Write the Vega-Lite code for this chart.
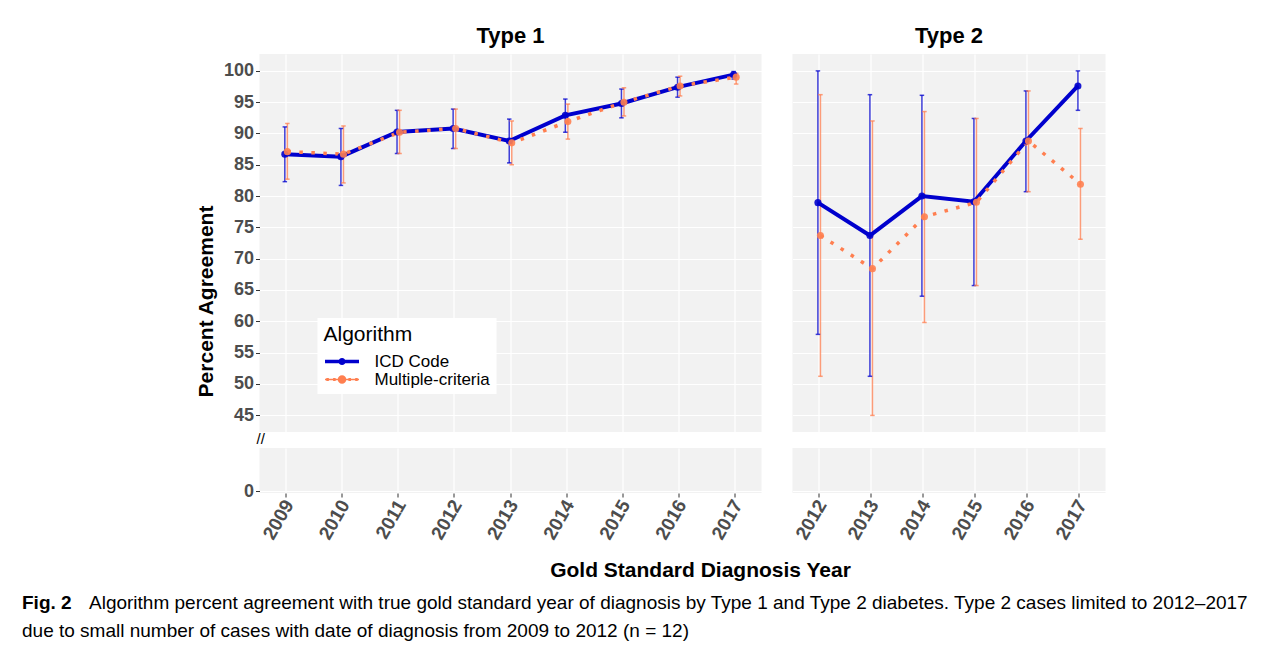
{
  "$schema": "https://vega.github.io/schema/vega-lite/v6.json",
  "padding": {"left": 22, "top": 25, "right": -62, "bottom": 0},
  "background": "#FFFFFF",
  "datasets": {
    "points": [
      {"type": "Type 1", "year": 2009, "algorithm": "ICD Code", "pct": 86.7, "lo": 82.3, "hi": 91.05},
      {"type": "Type 1", "year": 2010, "algorithm": "ICD Code", "pct": 86.3, "lo": 81.7, "hi": 90.8},
      {"type": "Type 1", "year": 2011, "algorithm": "ICD Code", "pct": 90.25, "lo": 86.8, "hi": 93.7},
      {"type": "Type 1", "year": 2012, "algorithm": "ICD Code", "pct": 90.8, "lo": 87.6, "hi": 93.9},
      {"type": "Type 1", "year": 2013, "algorithm": "ICD Code", "pct": 88.8, "lo": 85.3, "hi": 92.3},
      {"type": "Type 1", "year": 2014, "algorithm": "ICD Code", "pct": 92.9, "lo": 90.2, "hi": 95.5},
      {"type": "Type 1", "year": 2015, "algorithm": "ICD Code", "pct": 94.8, "lo": 92.5, "hi": 97.1},
      {"type": "Type 1", "year": 2016, "algorithm": "ICD Code", "pct": 97.4, "lo": 95.8, "hi": 99.0},
      {"type": "Type 1", "year": 2017, "algorithm": "ICD Code", "pct": 99.4, "lo": 98.7, "hi": 99.9},
      {"type": "Type 1", "year": 2009, "algorithm": "Multiple-criteria", "pct": 87.1, "lo": 82.7, "hi": 91.6},
      {"type": "Type 1", "year": 2010, "algorithm": "Multiple-criteria", "pct": 86.7, "lo": 82.1, "hi": 91.2},
      {"type": "Type 1", "year": 2011, "algorithm": "Multiple-criteria", "pct": 90.2, "lo": 86.8, "hi": 93.7},
      {"type": "Type 1", "year": 2012, "algorithm": "Multiple-criteria", "pct": 90.8, "lo": 87.6, "hi": 93.9},
      {"type": "Type 1", "year": 2013, "algorithm": "Multiple-criteria", "pct": 88.5, "lo": 85.0, "hi": 92.0},
      {"type": "Type 1", "year": 2014, "algorithm": "Multiple-criteria", "pct": 91.9, "lo": 89.1, "hi": 94.7},
      {"type": "Type 1", "year": 2015, "algorithm": "Multiple-criteria", "pct": 95.0, "lo": 92.8, "hi": 97.3},
      {"type": "Type 1", "year": 2016, "algorithm": "Multiple-criteria", "pct": 97.6, "lo": 96.0, "hi": 99.15},
      {"type": "Type 1", "year": 2017, "algorithm": "Multiple-criteria", "pct": 99.0, "lo": 97.9, "hi": 99.6},
      {"type": "Type 2", "year": 2012, "algorithm": "ICD Code", "pct": 78.95, "lo": 57.9, "hi": 100},
      {"type": "Type 2", "year": 2013, "algorithm": "ICD Code", "pct": 73.7, "lo": 51.2, "hi": 96.2},
      {"type": "Type 2", "year": 2014, "algorithm": "ICD Code", "pct": 80.0, "lo": 64.0, "hi": 96.1},
      {"type": "Type 2", "year": 2015, "algorithm": "ICD Code", "pct": 79.1, "lo": 65.7, "hi": 92.4},
      {"type": "Type 2", "year": 2016, "algorithm": "ICD Code", "pct": 88.8, "lo": 80.7, "hi": 96.8},
      {"type": "Type 2", "year": 2017, "algorithm": "ICD Code", "pct": 97.6, "lo": 93.7, "hi": 100},
      {"type": "Type 2", "year": 2012, "algorithm": "Multiple-criteria", "pct": 73.7, "lo": 51.2, "hi": 96.2},
      {"type": "Type 2", "year": 2013, "algorithm": "Multiple-criteria", "pct": 68.4, "lo": 44.95, "hi": 92.0},
      {"type": "Type 2", "year": 2014, "algorithm": "Multiple-criteria", "pct": 76.7, "lo": 59.8, "hi": 93.5},
      {"type": "Type 2", "year": 2015, "algorithm": "Multiple-criteria", "pct": 79.0, "lo": 65.7, "hi": 92.4},
      {"type": "Type 2", "year": 2016, "algorithm": "Multiple-criteria", "pct": 88.8, "lo": 80.7, "hi": 96.8},
      {"type": "Type 2", "year": 2017, "algorithm": "Multiple-criteria", "pct": 81.9, "lo": 73.1, "hi": 90.8}
    ],
    "caption": [
      {"line": 1, "col": "a", "w": "bold", "text": "Fig. 2"},
      {"line": 1, "col": "b", "w": "normal", "text": "Algorithm percent agreement with true gold standard year of diagnosis by Type 1 and Type 2 diabetes. Type 2 cases limited to 2012–2017"},
      {"line": 2, "col": "a", "w": "normal", "text": "due to small number of cases with date of diagnosis from 2009 to 2012 (n = 12)"}
    ]
  },
  "vconcat": [
    {
      "hconcat": [
        {
          "vconcat": [
            {
              "width": 502, "height": 378,
              "title": {"text": "Type 1", "fontSize": 22, "fontWeight": "bold", "color": "#000000", "frame": "group", "anchor": "middle", "offset": 6},
              "data": {"name": "points"},
              "transform": [{"filter": "datum.type === 'Type 1'"}],
              "encoding": {
                "x": {"field": "year", "type": "ordinal", "scale": {"type": "band", "domain": [2009, 2010, 2011, 2012, 2013, 2014, 2015, 2016, 2017], "paddingInner": 0.91, "paddingOuter": 0.429}, "axis": {"labels": false, "ticks": false, "domain": false, "grid": true, "gridColor": "#FFFFFF", "gridWidth": 1.2, "bandPosition": 0.5, "title": null}},
                "xOffset": {"field": "algorithm", "type": "nominal", "scale": {"type": "band", "domain": ["ICD Code", "Multiple-criteria"], "paddingInner": 0, "paddingOuter": 0}},
                "color": {"field": "algorithm", "type": "nominal", "scale": {"domain": ["ICD Code", "Multiple-criteria"], "range": ["#0000CD", "#FF7F50"]},
                  "legend": {
                    "orient": "none", "legendX": 58, "legendY": 264,
                    "title": "Algorithm", "titleFontSize": 21, "titleFontWeight": "normal", "titleColor": "#000000", "titlePadding": 8,
                    "labelFontSize": 17, "labelColor": "#000000", "labelOffset": 34,
                    "symbolSize": 289, "symbolType": "M-0.82,-0.22H3.18V0.22H-0.82Z", "symbolStrokeWidth": 0,
                    "fillColor": "#FFFFFF", "padding": 6, "rowPadding": 0,
                    "encode": {"symbols": {"update": {
                      "shape": {"signal": "datum.value === 'ICD Code' ? 'M-0.82,-0.22H3.18V0.22H-0.82Z M1.6,0A0.42,0.42 0 1,1 0.76,0A0.42,0.42 0 1,1 1.6,0Z' : 'M-0.82,-0.09H3.18V0.09H-0.82Z M-0.67,-0.18H-0.37V0.18H-0.67Z M2.73,-0.18H3.03V0.18H2.73Z M0.13,-0.18H0.43V0.18H0.13Z M1.93,-0.18H2.23V0.18H1.93Z M1.68,0A0.5,0.5 0 1,1 0.68,0A0.5,0.5 0 1,1 1.68,0Z'"},
                      "fill": {"signal": "datum.value === 'ICD Code' ? '#0000CD' : '#FF7F50'"},
                      "stroke": {"value": "transparent"},
                      "opacity": {"value": 1}
                    }}}
                  }
                }
              },
              "layer": [
                {"mark": {"type": "rule", "strokeWidth": 1.5, "opacity": 0.75},
                 "encoding": {"y": {"field": "lo", "type": "quantitative", "scale": {"domain": [42.3, 102.7], "nice": false, "zero": false},
                   "axis": {"values": [45, 50, 55, 60, 65, 70, 75, 80, 85, 90, 95, 100], "title": "Percent Agreement", "titleFontSize": 21, "titleFontWeight": "bold", "titleColor": "#000000", "titleY": 247, "titlePadding": 7, "minExtent": 36, "maxExtent": 36, "labelFontSize": 18, "labelFontWeight": "bold", "labelColor": "#4D4D4D", "labelPadding": 2, "tickSize": 4, "tickColor": "#333333", "domain": false, "grid": true, "gridColor": "#FFFFFF", "gridWidth": 1.2}},
                   "y2": {"field": "hi"}}},
                {"mark": {"type": "tick", "thickness": 1.5, "size": 4.5, "opacity": 0.75},
                 "encoding": {"y": {"field": "lo", "type": "quantitative", "scale": {"domain": [42.3, 102.7], "nice": false, "zero": false},
                   "axis": {"values": [45, 50, 55, 60, 65, 70, 75, 80, 85, 90, 95, 100], "title": "Percent Agreement", "titleFontSize": 21, "titleFontWeight": "bold", "titleColor": "#000000", "titleY": 247, "titlePadding": 7, "minExtent": 36, "maxExtent": 36, "labelFontSize": 18, "labelFontWeight": "bold", "labelColor": "#4D4D4D", "labelPadding": 2, "tickSize": 4, "tickColor": "#333333", "domain": false, "grid": true, "gridColor": "#FFFFFF", "gridWidth": 1.2}}}},
                {"mark": {"type": "tick", "thickness": 1.5, "size": 4.5, "opacity": 0.75},
                 "encoding": {"y": {"field": "hi", "type": "quantitative", "scale": {"domain": [42.3, 102.7], "nice": false, "zero": false},
                   "axis": {"values": [45, 50, 55, 60, 65, 70, 75, 80, 85, 90, 95, 100], "title": "Percent Agreement", "titleFontSize": 21, "titleFontWeight": "bold", "titleColor": "#000000", "titleY": 247, "titlePadding": 7, "minExtent": 36, "maxExtent": 36, "labelFontSize": 18, "labelFontWeight": "bold", "labelColor": "#4D4D4D", "labelPadding": 2, "tickSize": 4, "tickColor": "#333333", "domain": false, "grid": true, "gridColor": "#FFFFFF", "gridWidth": 1.2}}}},
                {"transform": [{"filter": "datum.algorithm === 'ICD Code'"}],
                 "mark": {"type": "line", "strokeWidth": 4},
                 "encoding": {"y": {"field": "pct", "type": "quantitative", "scale": {"domain": [42.3, 102.7], "nice": false, "zero": false},
                   "axis": {"values": [45, 50, 55, 60, 65, 70, 75, 80, 85, 90, 95, 100], "title": "Percent Agreement", "titleFontSize": 21, "titleFontWeight": "bold", "titleColor": "#000000", "titleY": 247, "titlePadding": 7, "minExtent": 36, "maxExtent": 36, "labelFontSize": 18, "labelFontWeight": "bold", "labelColor": "#4D4D4D", "labelPadding": 2, "tickSize": 4, "tickColor": "#333333", "domain": false, "grid": true, "gridColor": "#FFFFFF", "gridWidth": 1.2}}}},
                {"transform": [{"filter": "datum.algorithm === 'Multiple-criteria'"}],
                 "mark": {"type": "line", "strokeWidth": 3.5, "strokeDash": [3.5, 8.5], "strokeCap": "butt"},
                 "encoding": {"y": {"field": "pct", "type": "quantitative", "scale": {"domain": [42.3, 102.7], "nice": false, "zero": false},
                   "axis": {"values": [45, 50, 55, 60, 65, 70, 75, 80, 85, 90, 95, 100], "title": "Percent Agreement", "titleFontSize": 21, "titleFontWeight": "bold", "titleColor": "#000000", "titleY": 247, "titlePadding": 7, "minExtent": 36, "maxExtent": 36, "labelFontSize": 18, "labelFontWeight": "bold", "labelColor": "#4D4D4D", "labelPadding": 2, "tickSize": 4, "tickColor": "#333333", "domain": false, "grid": true, "gridColor": "#FFFFFF", "gridWidth": 1.2}}}},
                {"mark": {"type": "point", "filled": true, "size": 50, "opacity": 0.9},
                 "encoding": {"y": {"field": "pct", "type": "quantitative", "scale": {"domain": [42.3, 102.7], "nice": false, "zero": false},
                   "axis": {"values": [45, 50, 55, 60, 65, 70, 75, 80, 85, 90, 95, 100], "title": "Percent Agreement", "titleFontSize": 21, "titleFontWeight": "bold", "titleColor": "#000000", "titleY": 247, "titlePadding": 7, "minExtent": 36, "maxExtent": 36, "labelFontSize": 18, "labelFontWeight": "bold", "labelColor": "#4D4D4D", "labelPadding": 2, "tickSize": 4, "tickColor": "#333333", "domain": false, "grid": true, "gridColor": "#FFFFFF", "gridWidth": 1.2}}}}
              ]
            },
            {
              "width": 502, "height": 45,
              "title": {"text": "//", "fontSize": 15, "fontWeight": "normal", "color": "#000000", "frame": "group", "anchor": "start", "offset": 1, "dx": -3},
              "data": {"name": "points"},
              "transform": [{"filter": "datum.type === 'Type 1'"}],
              "mark": {"type": "point", "clip": true, "filled": true},
              "encoding": {
                "x": {"field": "year", "type": "ordinal", "scale": {"type": "band", "domain": [2009, 2010, 2011, 2012, 2013, 2014, 2015, 2016, 2017], "paddingInner": 0.91, "paddingOuter": 0.429},
                  "axis": {"labelAngle": -60, "labelAlign": "right", "labelBaseline": "middle", "labelFontSize": 19, "labelFontWeight": "bold", "labelColor": "#4D4D4D", "labelPadding": 4, "labelOffset": 3, "labelOverlap": false, "tickSize": 4, "tickColor": "#333333", "domain": false, "grid": true, "gridColor": "#FFFFFF", "gridWidth": 1.2, "bandPosition": 0.5, "title": null}},
                "y": {"field": "pct", "type": "quantitative", "scale": {"domain": [-0.3, 6.9], "nice": false, "zero": false},
                  "axis": {"values": [0], "title": null, "minExtent": 36, "maxExtent": 36, "labelFontSize": 18, "labelFontWeight": "bold", "labelColor": "#4D4D4D", "labelPadding": 2, "tickSize": 4, "tickColor": "#333333", "domain": false, "grid": true, "gridColor": "#FFFFFF", "gridWidth": 1.2}}
              }
            }
          ],
          "spacing": 16,
          "bounds": "flush",
          "resolve": {"scale": {"color": "independent"}, "legend": {"color": "independent"}}
        },
        {
          "vconcat": [
            {
              "width": 313, "height": 378,
              "title": {"text": "Type 2", "fontSize": 22, "fontWeight": "bold", "color": "#000000", "frame": "group", "anchor": "middle", "offset": 6},
              "data": {"name": "points"},
              "transform": [{"filter": "datum.type === 'Type 2'"}],
              "encoding": {
                "x": {"field": "year", "type": "ordinal", "scale": {"type": "band", "domain": [2012, 2013, 2014, 2015, 2016, 2017], "paddingInner": 0.91, "paddingOuter": 0.4645}, "axis": {"labels": false, "ticks": false, "domain": false, "grid": true, "gridColor": "#FFFFFF", "gridWidth": 1.2, "bandPosition": 0.5, "title": null}},
                "xOffset": {"field": "algorithm", "type": "nominal", "scale": {"type": "band", "domain": ["ICD Code", "Multiple-criteria"], "paddingInner": 0, "paddingOuter": 0}},
                "color": {"field": "algorithm", "type": "nominal", "scale": {"domain": ["ICD Code", "Multiple-criteria"], "range": ["#0000CD", "#FF7F50"]}, "legend": null}
              },
              "layer": [
                {"mark": {"type": "rule", "strokeWidth": 1.5, "opacity": 0.75},
                 "encoding": {"y": {"field": "lo", "type": "quantitative", "scale": {"domain": [42.3, 102.7], "nice": false, "zero": false}, "axis": {"values": [45, 50, 55, 60, 65, 70, 75, 80, 85, 90, 95, 100], "labels": false, "ticks": false, "domain": false, "grid": true, "gridColor": "#FFFFFF", "gridWidth": 1.2, "title": null}}, "y2": {"field": "hi"}}},
                {"mark": {"type": "tick", "thickness": 1.5, "size": 4.5, "opacity": 0.75},
                 "encoding": {"y": {"field": "lo", "type": "quantitative", "scale": {"domain": [42.3, 102.7], "nice": false, "zero": false}, "axis": {"values": [45, 50, 55, 60, 65, 70, 75, 80, 85, 90, 95, 100], "labels": false, "ticks": false, "domain": false, "grid": true, "gridColor": "#FFFFFF", "gridWidth": 1.2, "title": null}}}},
                {"mark": {"type": "tick", "thickness": 1.5, "size": 4.5, "opacity": 0.75},
                 "encoding": {"y": {"field": "hi", "type": "quantitative", "scale": {"domain": [42.3, 102.7], "nice": false, "zero": false}, "axis": {"values": [45, 50, 55, 60, 65, 70, 75, 80, 85, 90, 95, 100], "labels": false, "ticks": false, "domain": false, "grid": true, "gridColor": "#FFFFFF", "gridWidth": 1.2, "title": null}}}},
                {"transform": [{"filter": "datum.algorithm === 'ICD Code'"}],
                 "mark": {"type": "line", "strokeWidth": 4},
                 "encoding": {"y": {"field": "pct", "type": "quantitative", "scale": {"domain": [42.3, 102.7], "nice": false, "zero": false}, "axis": {"values": [45, 50, 55, 60, 65, 70, 75, 80, 85, 90, 95, 100], "labels": false, "ticks": false, "domain": false, "grid": true, "gridColor": "#FFFFFF", "gridWidth": 1.2, "title": null}}}},
                {"transform": [{"filter": "datum.algorithm === 'Multiple-criteria'"}],
                 "mark": {"type": "line", "strokeWidth": 3.5, "strokeDash": [3.5, 8.5], "strokeCap": "butt"},
                 "encoding": {"y": {"field": "pct", "type": "quantitative", "scale": {"domain": [42.3, 102.7], "nice": false, "zero": false}, "axis": {"values": [45, 50, 55, 60, 65, 70, 75, 80, 85, 90, 95, 100], "labels": false, "ticks": false, "domain": false, "grid": true, "gridColor": "#FFFFFF", "gridWidth": 1.2, "title": null}}}},
                {"mark": {"type": "point", "filled": true, "size": 50, "opacity": 0.9},
                 "encoding": {"y": {"field": "pct", "type": "quantitative", "scale": {"domain": [42.3, 102.7], "nice": false, "zero": false}, "axis": {"values": [45, 50, 55, 60, 65, 70, 75, 80, 85, 90, 95, 100], "labels": false, "ticks": false, "domain": false, "grid": true, "gridColor": "#FFFFFF", "gridWidth": 1.2, "title": null}}}}
              ]
            },
            {
              "width": 313, "height": 45,
              "data": {"name": "points"},
              "transform": [{"filter": "datum.type === 'Type 2'"}],
              "mark": {"type": "point", "clip": true, "filled": true},
              "encoding": {
                "x": {"field": "year", "type": "ordinal", "scale": {"type": "band", "domain": [2012, 2013, 2014, 2015, 2016, 2017], "paddingInner": 0.91, "paddingOuter": 0.4645},
                  "axis": {"labelAngle": -60, "labelAlign": "right", "labelBaseline": "middle", "labelFontSize": 19, "labelFontWeight": "bold", "labelColor": "#4D4D4D", "labelPadding": 4, "labelOffset": 3, "labelOverlap": false, "tickSize": 4, "tickColor": "#333333", "domain": false, "grid": true, "gridColor": "#FFFFFF", "gridWidth": 1.2, "bandPosition": 0.5, "title": null}},
                "y": {"field": "pct", "type": "quantitative", "scale": {"domain": [-0.3, 6.9], "nice": false, "zero": false},
                  "axis": {"values": [0], "labels": false, "ticks": false, "domain": false, "grid": true, "gridColor": "#FFFFFF", "gridWidth": 1.2, "title": null}}
              }
            }
          ],
          "spacing": 16,
          "bounds": "flush",
          "resolve": {"scale": {"color": "independent"}, "legend": {"color": "independent"}}
        }
      ],
      "spacing": 31,
      "resolve": {"scale": {"color": "independent"}, "legend": {"color": "independent"}},
      "title": {"text": "Gold Standard Diagnosis Year", "orient": "bottom", "anchor": "middle", "fontSize": 21, "fontWeight": "bold", "color": "#000000", "offset": 17, "dx": 50}
    },
    {
      "width": 1321, "height": 28,
      "view": {"fill": null, "stroke": null},
      "data": {"name": "caption"},
      "encoding": {
        "x": {"field": "col", "type": "nominal", "scale": {"type": "point", "domain": ["a", "b"], "range": [0, 67], "padding": 0}, "axis": null},
        "y": {"field": "line", "type": "ordinal", "scale": {"type": "point", "domain": [1, 2], "range": [0, 28], "padding": 0}, "axis": null},
        "text": {"field": "text"}
      },
      "layer": [
        {"transform": [{"filter": "datum.w === 'bold'"}], "mark": {"type": "text", "align": "left", "baseline": "middle", "font": "Liberation Sans", "fontSize": 19, "fontWeight": "bold", "color": "#000000"}},
        {"transform": [{"filter": "datum.w !== 'bold'"}], "mark": {"type": "text", "align": "left", "baseline": "middle", "font": "Liberation Sans", "fontSize": 19, "fontWeight": "normal", "color": "#000000"}}
      ]
    }
  ],
  "spacing": 13,
  "center": true,
  "resolve": {"scale": {"color": "independent"}, "legend": {"color": "independent"}},
  "config": {
    "font": "Liberation Sans",
    "view": {"fill": "#F2F2F2", "stroke": null}
  }
}
